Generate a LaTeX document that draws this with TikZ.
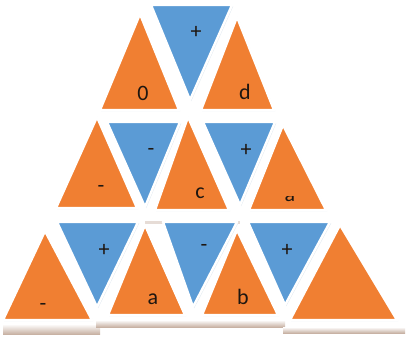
\documentclass[tikz,border=0pt]{standalone}
\usepackage{fontspec}
\setmainfont{Carlito}
\usetikzlibrary{shadows}
\definecolor{tileOrange}{HTML}{F07F32}
\definecolor{tileBlue}{HTML}{5B9BD5}
\definecolor{tileInk}{HTML}{1E1610}
\definecolor{tileShelf}{HTML}{C8B2A4}
\definecolor{tileHalo}{HTML}{DCE6EE}
\begin{document}
\begin{tikzpicture}[x=1pt,y=-1pt,line cap=round,line join=round]
\path[fill=white] (0,0) rectangle (409,339);
\tikzset{tile/.style={draw=white,line width=2.4pt,drop shadow={shadow xshift=1.2pt,shadow yshift=-1.2pt,fill=tileHalo,opacity=0.9}},
  orangetile/.style={tile,fill=tileOrange},bluetile/.style={tile,fill=tileBlue},
  sign/.style={text=tileInk,font=\fontsize{22}{26}\selectfont,inner sep=0pt},shelf/.style={top color=white,bottom color=tileShelf}}
% shelves under the bottom row
\path[shelf] (3,324) rectangle (100,334); \path[shelf] (96,320) rectangle (285,327); \path[shelf] (283,327) rectangle (405,333);
\path[fill=tileShelf!45] (145,221) rectangle (240,224);
% top row
\path[orangetile] (140,14) -- (179,110) -- (100,110) -- cycle;
\path[bluetile] (151,5) -- (232,5) -- (190,100) -- cycle;
\path[orangetile] (237,17) -- (274,110) -- (201,110) -- cycle;
\node[sign] (zero) at (143,93) {0}; \node[sign] (plusTop) at (196,32) {+}; \node[sign] (dLabel) at (245,92) {d};
% middle row
\path[orangetile] (97,117) -- (137,208) -- (56,208) -- cycle;
\path[bluetile] (107,122) -- (180,122) -- (145,207) -- cycle;
\path[orangetile] (188,117) -- (229,210) -- (155,210) -- cycle;
\path[bluetile] (203,122) -- (275,122) -- (240,205) -- cycle;
\path[orangetile] (283,125) -- (326,210) -- (249,210) -- cycle;
\node[sign] (minusMidL) at (101,189) {-}; \node[sign] (minusMidB) at (151,152) {-}; \node[sign] (cLabel) at (200,193) {c};
\node[sign] (plusMid) at (246,150) {+};
\begin{scope} \clip (270,196) rectangle (310,215); \node[sign] (aCut) at (290,196) {a}; \end{scope}
% bottom row
\path[orangetile] (45,231) -- (92,320) -- (3,320) -- cycle;
\path[bluetile] (57,222) -- (138,222) -- (97,307) -- cycle;
\path[orangetile] (145,225) -- (185,315) -- (108,315) -- cycle;
\path[bluetile] (163,222) -- (237,222) -- (193,307) -- cycle;
\path[orangetile] (237,230) -- (278,315) -- (202,315) -- cycle;
\path[bluetile] (248,222) -- (330,222) -- (285,305) -- cycle;
\path[orangetile] (340,225) -- (397,320) -- (290,320) -- cycle;
\node[sign] (minusBotL) at (43,307) {-}; \node[sign] (plusBotL) at (104,250) {+}; \node[sign] (aLabel) at (153,299) {a};
\node[sign] (minusBot) at (204,248) {-}; \node[sign] (bLabel) at (243,297) {b}; \node[sign] (plusBotR) at (287,250) {+};
\end{tikzpicture}
\end{document}
